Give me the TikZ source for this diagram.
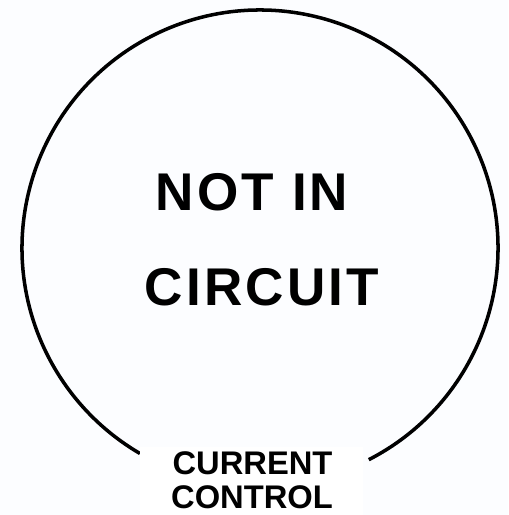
\documentclass[tikz,border=0pt]{standalone}
\usepackage{fontspec}
\newfontfamily\labelfont{Liberation Sans}
\definecolor{paper}{RGB}{252,253,255}
\begin{document}
\begin{tikzpicture}[x=0.01cm, y=-0.01cm,
        every node/.style={inner sep=0pt, anchor=base},
        bigtext/.style={font=\labelfont\bfseries\fontsize{15.1}{18}\selectfont\addfontfeatures{LetterSpace=6}},
        tagtext/.style={font=\labelfont\bfseries\fontsize{9.3}{10}\selectfont}]
        \useasboundingbox (0,0) rectangle (508,515);
        \fill[paper] (0,0) rectangle (508,515);
        \coordinate (c) at (260,248);
        \draw[line width=1pt] ([shift={(62.8:238)}]c) arc[start angle=62.8, end angle=-239.7, radius=238];
        \node[bigtext] (notin) at (252,210) {NOT IN};
        \node[bigtext] (circuit) at (262,305) {CIRCUIT};
        \fill[white] (140,447) rectangle (363,515);
        \node[tagtext] (current) at (252.5,474) {CURRENT};
        \node[tagtext] (control) at (252,508) {CONTROL};
    \end{tikzpicture}
\end{document}
